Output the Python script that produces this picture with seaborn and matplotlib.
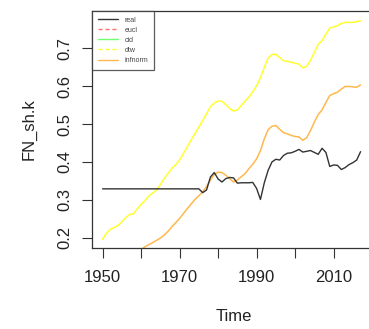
import numpy as np
import pandas as pd
import matplotlib
matplotlib.use("Agg")
import matplotlib.pyplot as plt
from matplotlib.lines import Line2D
import seaborn as sns

years = list(range(1950, 2018))

real = [0.329] * 26 + [
    0.319, 0.326, 0.360, 0.372, 0.355, 0.347, 0.356, 0.359, 0.358, 0.344,
    0.345, 0.345, 0.345, 0.346, 0.330, 0.301, 0.345, 0.378, 0.400, 0.407,
    0.405, 0.417, 0.423, 0.424, 0.428, 0.433, 0.426, 0.428, 0.430, 0.425,
    0.420, 0.436, 0.425, 0.388, 0.392, 0.391, 0.380, 0.385, 0.393, 0.398,
    0.405, 0.427]

dtw = [0.196, 0.212, 0.222, 0.227, 0.232, 0.242, 0.253, 0.261, 0.263, 0.276,
       0.288, 0.298, 0.310, 0.318, 0.326, 0.340, 0.356, 0.370, 0.383, 0.393,
       0.405, 0.422, 0.440, 0.458, 0.475, 0.492, 0.509, 0.527, 0.546, 0.555,
       0.561, 0.560, 0.551, 0.541, 0.534, 0.537, 0.549, 0.560, 0.571, 0.585,
       0.601, 0.622, 0.649, 0.674, 0.683, 0.684, 0.675, 0.667, 0.665, 0.663,
       0.660, 0.658, 0.648, 0.652, 0.668, 0.689, 0.710, 0.720, 0.737, 0.753,
       0.756, 0.759, 0.765, 0.768, 0.768, 0.768, 0.770, 0.772]

infnorm = [np.nan] * 10 + [
    0.169, 0.176, 0.182, 0.187, 0.193, 0.199, 0.207, 0.217, 0.229, 0.240,
    0.251, 0.264, 0.277, 0.289, 0.301, 0.311, 0.321, 0.335, 0.352, 0.367,
    0.373, 0.372, 0.365, 0.356, 0.347, 0.352, 0.361, 0.369, 0.382, 0.394,
    0.408, 0.430, 0.461, 0.485, 0.494, 0.496, 0.486, 0.477, 0.474, 0.470,
    0.467, 0.466, 0.457, 0.464, 0.483, 0.505, 0.525, 0.537, 0.557, 0.575,
    0.580, 0.584, 0.592, 0.599, 0.599, 0.598, 0.597, 0.603]

legend_labels = ["real", "eucl", "cid", "dtw", "infnorm"]
x_ticks = [1950, 1960, 1970, 1980, 1990, 2000, 2010]
x_ticklabels = ["1950", "", "1970", "", "1990", "", "2010"]
y_ticks = [0.2, 0.3, 0.4, 0.5, 0.6, 0.7]

df = pd.DataFrame({"Time": years, "real": real, "dtw": dtw, "infnorm": infnorm})

sns.set_style("white")
plt.rcParams["font.family"] = ["Liberation Sans", "DejaVu Sans"]

W, H = 369, 329
fig = plt.figure(figsize=(W / 100, H / 100), dpi=100)
left, right, top, bottom = 92, 375, 11, 248
ax = fig.add_axes([left / W, 1 - bottom / H, (right - left) / W, (bottom - top) / H])

col_real = "#333333"
col_eucl = "#FF7070"
col_cid = "#70FF70"
col_dtw = "#FFFF30"
col_inf = "#FFB84D"

sns.lineplot(data=df, x="Time", y="dtw", ax=ax, color=col_dtw, lw=1.1, legend=False)
sns.lineplot(data=df, x="Time", y="infnorm", ax=ax, color=col_inf, lw=1.1, legend=False)
sns.lineplot(data=df, x="Time", y="real", ax=ax, color=col_real, lw=1.0, legend=False)

ax.set_xlim(1947.25, 2020.75)
ax.set_ylim(0.173, 0.798)
ax.set_xticks(x_ticks)
ax.set_xticklabels(x_ticklabels)
ax.set_yticks(y_ticks)
ax.set_yticklabels([f"{v:.1f}" for v in y_ticks], rotation=90, va="center")
ax.tick_params(axis="both", which="major", length=7, width=0.8, color="#333333",
               labelsize=12, labelcolor="#222222", direction="out",
               bottom=True, left=True)
ax.tick_params(axis="x", pad=9)
ax.tick_params(axis="y", pad=7)
for s in ax.spines.values():
    s.set_visible(True)
    s.set_color("#333333")
    s.set_linewidth(0.9)

ax.set_xlabel("Time", fontsize=12, color="#222222", labelpad=17)
ax.set_ylabel("FN_sh.k", fontsize=12, color="#222222", labelpad=15)

handles = [
    Line2D([], [], color=col_real, lw=1),
    Line2D([], [], color=col_eucl, lw=1, ls=(0, (3, 2))),
    Line2D([], [], color=col_cid, lw=1),
    Line2D([], [], color=col_dtw, lw=1, ls=(0, (3, 2))),
    Line2D([], [], color=col_inf, lw=1),
]
leg = ax.legend(handles, legend_labels, loc="upper left", bbox_to_anchor=(0, 1),
                borderaxespad=0, fontsize=5, handlelength=3.0, handletextpad=0.9,
                labelspacing=0.45, borderpad=0.8, frameon=True, fancybox=False)
leg.get_frame().set_edgecolor("#333333")
leg.get_frame().set_linewidth(0.9)
for t in leg.get_texts():
    t.set_color("#444444")

fig.savefig("out.png", dpi=100)
